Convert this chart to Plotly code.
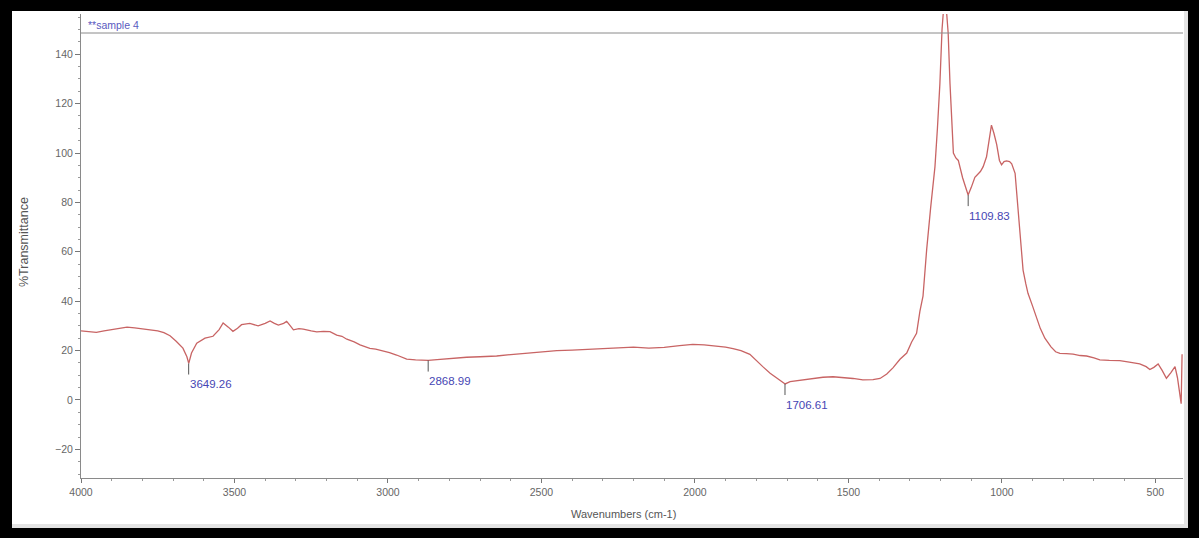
import plotly.graph_objects as go

# FTIR spectrum of sample 4 (wavenumber in cm-1, %T)
wavenumber = [
    4000, 3975, 3950, 3925, 3900, 3875, 3850, 3825, 3800, 3775, 3750, 3730, 3710, 3690,
    3668, 3655, 3649, 3640, 3623, 3596, 3570, 3550, 3537, 3520, 3505, 3490, 3477, 3450,
    3423, 3400, 3384, 3370, 3357, 3340, 3330, 3318, 3308, 3290, 3276, 3250, 3232, 3210,
    3189, 3167, 3150, 3134, 3110, 3091, 3075, 3059, 3040, 3016, 2995, 2972, 2955, 2939,
    2910, 2869, 2840, 2820, 2780, 2744, 2700, 2646, 2600, 2550, 2500, 2450, 2400, 2350,
    2300, 2250, 2200, 2150, 2100, 2050, 2007, 1970, 1930, 1900, 1876, 1850, 1821, 1800,
    1779, 1755, 1734, 1715, 1706, 1690, 1658, 1620, 1583, 1550, 1518, 1485, 1453, 1420,
    1397, 1375, 1355, 1332, 1310, 1294, 1278, 1267, 1257, 1251, 1245, 1232, 1218, 1210,
    1202, 1195, 1190, 1186, 1182, 1175, 1169, 1163, 1158, 1150, 1142, 1128, 1115, 1110,
    1100, 1088, 1070, 1061, 1050, 1042, 1034, 1026, 1017, 1008, 1001, 993, 985, 975,
    968, 957, 952, 947, 941, 936, 931, 922, 915, 900, 887, 875, 860, 840,
    825, 811, 790, 768, 745, 724, 700, 681, 650, 616, 585, 551, 530, 518,
    505, 491, 478, 464, 450, 436, 428, 420, 416, 413,
]
transmittance = [
    28.0, 27.8, 27.4, 28.0, 28.6, 28.9, 29.5, 29.2, 28.9, 28.4, 28.0, 27.3, 26.0, 23.8,
    21.0, 17.5, 14.8, 19.0, 23.0, 25.0, 25.8, 28.5, 31.2, 29.5, 27.8, 29.0, 30.5, 31.0,
    30.0, 31.0, 32.0, 31.0, 30.3, 31.0, 31.8, 30.0, 28.4, 28.9, 28.7, 28.0, 27.6, 27.8,
    27.7, 26.3, 25.8, 24.6, 23.5, 22.3, 21.5, 20.9, 20.6, 20.0, 19.2, 18.2, 17.2, 16.5,
    16.2, 16.0, 16.3, 16.5, 17.0, 17.3, 17.5, 17.8, 18.4, 19.0, 19.5, 20.0, 20.2, 20.5,
    20.8, 21.2, 21.4, 21.0, 21.3, 22.0, 22.5, 22.3, 21.8, 21.4, 20.8, 20.0, 18.5, 16.2,
    13.5, 10.8, 8.9, 7.2, 6.5, 7.4, 8.0, 8.5, 9.2, 9.4, 9.2, 8.7, 8.1, 8.2,
    8.7, 10.5, 13.0, 16.5, 19.0, 23.5, 27.0, 36.0, 42.0, 52.0, 61.0, 78.0, 94.5, 110.0,
    128.0, 150.0, 162.0, 165.0, 160.0, 148.6, 128.0, 110.0, 100.0, 98.0, 97.0, 90.0, 84.5, 83.0,
    86.0, 90.2, 92.5, 94.5, 98.5, 105.0, 111.3, 108.0, 103.5, 97.0, 95.2, 96.5, 96.8, 96.5,
    95.6, 91.8, 84.0, 74.2, 66.0, 60.7, 52.6, 47.0, 43.2, 38.0, 33.7, 29.0, 25.0, 21.5,
    19.5, 18.9, 18.8, 18.6, 18.0, 17.8, 17.0, 16.2, 16.0, 15.9, 15.3, 14.6, 13.5, 12.3,
    13.2, 14.6, 12.0, 8.8, 11.0, 13.5, 9.0, 3.0, -1.5, 18.5,
]

# Labelled peaks: position, %T at the peak, label text
peak_wn = [3649.26, 2868.99, 1706.61, 1109.83]
peak_t = [14.8, 16.0, 6.5, 83.0]
peak_text = ["3649.26", "2868.99", "1706.61", "1109.83"]

y_ticks = [-20, 0, 20, 40, 60, 80, 100, 120, 140]
x_ticks = [4000, 3500, 3000, 2500, 2000, 1500, 1000, 500]

W, H = 1199, 538
L, R, T, B = 81, 16, 14, 60
pw, ph = W - L - R, H - T - B

def px(xpix):
    return (xpix - L) / pw

def py(ypix):
    return (H - B - ypix) / ph

fig = go.Figure()
fig.add_trace(go.Scatter(
    x=wavenumber, y=transmittance, mode="lines",
    line=dict(color="#c86464", width=1.3), hoverinfo="skip", showlegend=False,
))

shapes = [
    # white chart frame on black surround, with a soft grey bevel
    dict(type="rect", xref="paper", yref="paper", x0=px(12), x1=px(1188), y0=py(528), y1=py(11),
         fillcolor="#e4e4e4", line=dict(width=0), layer="below"),
    dict(type="rect", xref="paper", yref="paper", x0=px(12), x1=px(1184), y0=py(524), y1=py(11),
         fillcolor="white", line=dict(width=0), layer="below"),
    # header separator line
    dict(type="line", xref="paper", yref="y", x0=0, x1=1, y0=148.6, y1=148.6,
         line=dict(color="#8a8a8a", width=1)),
]
annotations = []
for w, t, txt in zip(peak_wn, peak_t, peak_text):
    shapes.append(dict(type="line", xref="x", yref="y", x0=w, x1=w, y0=t, y1=t - 4.5,
                       line=dict(color="#555555", width=1)))
    annotations.append(dict(x=w, y=t - 5.2, xref="x", yref="y", text=txt, showarrow=False,
                            xanchor="left", yanchor="top", xshift=-1,
                            font=dict(family="Liberation Sans", size=11.5, color="#4646b4")))

annotations += [
    dict(x=px(86), y=py(25), xref="paper", yref="paper", text="**sample 4", showarrow=False,
         xanchor="left", yanchor="middle",
         font=dict(family="Liberation Sans", size=10.5, color="#5a5ac0")),
    dict(x=px(623), y=py(514), xref="paper", yref="paper", text="Wavenumbers (cm-1)",
         showarrow=False, xanchor="center", yanchor="middle",
         font=dict(family="Liberation Sans", size=11, color="#555555")),
    dict(x=px(24), y=py(242), xref="paper", yref="paper", text="%Transmittance",
         showarrow=False, textangle=-90, xanchor="center", yanchor="middle",
         font=dict(family="Liberation Sans", size=12.5, color="#555555")),
]

fig.update_layout(
    width=W, height=H,
    margin=dict(l=L, r=R, t=T, b=B),
    paper_bgcolor="black", plot_bgcolor="white",
    shapes=shapes, annotations=annotations, showlegend=False,
    xaxis=dict(
        range=[4000, 410], tickvals=x_ticks, showgrid=False, zeroline=False,
        showline=True, linecolor="#8a8a8a", linewidth=1,
        ticks="outside", ticklen=4, tickcolor="#777777",
        minor=dict(dtick=100, ticks="outside", ticklen=2, tickcolor="#999999", showgrid=False),
        tickfont=dict(family="Liberation Sans", size=10.5, color="#666666"),
    ),
    yaxis=dict(
        range=[-31.6, 156.3], tickvals=y_ticks, showgrid=False, zeroline=False,
        showline=True, linecolor="#8a8a8a", linewidth=1,
        ticks="outside", ticklen=5, tickcolor="#777777",
        minor=dict(dtick=5, ticks="outside", ticklen=2, tickcolor="#999999", showgrid=False),
        tickfont=dict(family="Liberation Sans", size=10.5, color="#666666"),
    ),
)

fig.write_html("out.html")
